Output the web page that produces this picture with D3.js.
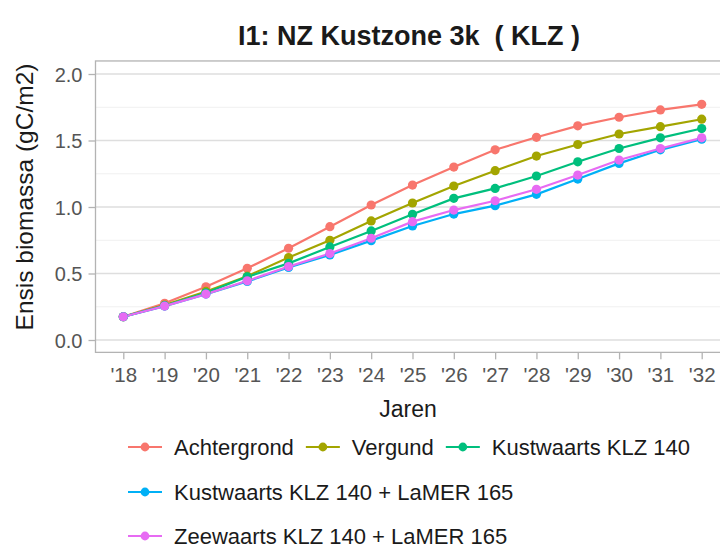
<!DOCTYPE html>
<html>
<head>
<meta charset="utf-8">
<script src="https://cdn.jsdelivr.net/npm/d3@7"></script>
<style>
  body { margin: 0; background: #fff; }
  svg { display: block; font-family: "Liberation Sans", Arial, sans-serif; }
</style>
</head>
<body>
<svg id="chart" width="720" height="549"></svg>
<script>
// jaren en tick labels
const years = [2018, 2019, 2020, 2021, 2022, 2023, 2024, 2025, 2026, 2027, 2028, 2029, 2030, 2031, 2032];
const yearLabels = ["'18", "'19", "'20", "'21", "'22", "'23", "'24", "'25", "'26", "'27", "'28", "'29", "'30", "'31", "'32"];
const yTicks = [0, 0.5, 1, 1.5, 2];
const yMinor = [0.25, 0.75, 1.25, 1.75];

// series (gC/m2)
const achtergrond = [0.175, 0.276, 0.40, 0.539, 0.69, 0.852, 1.015, 1.165, 1.30, 1.43, 1.524, 1.61, 1.675, 1.73, 1.772];
const vergund = [0.175, 0.262, 0.365, 0.48, 0.62, 0.75, 0.895, 1.03, 1.158, 1.273, 1.383, 1.47, 1.549, 1.604, 1.66];
const kustwaarts = [0.175, 0.258, 0.355, 0.475, 0.576, 0.70, 0.82, 0.945, 1.065, 1.14, 1.233, 1.34, 1.44, 1.52, 1.59];
const kustwaartsLamer = [0.175, 0.255, 0.345, 0.44, 0.545, 0.64, 0.747, 0.857, 0.947, 1.01, 1.095, 1.21, 1.328, 1.43, 1.51];
const zeewaartsLamer = [0.175, 0.255, 0.345, 0.445, 0.552, 0.65, 0.765, 0.89, 0.977, 1.047, 1.133, 1.24, 1.353, 1.44, 1.52];

const seriesNames = ["Achtergrond", "Vergund", "Kustwaarts KLZ 140", "Kustwaarts KLZ 140 + LaMER 165", "Zeewaarts KLZ 140 + LaMER 165"];
const seriesValues = [achtergrond, vergund, kustwaarts, kustwaartsLamer, zeewaartsLamer];
const colors = ["#F8766D", "#A3A500", "#00BF7D", "#00B0F6", "#E76BF3"];

const svg = d3.select("#chart");

const x = d3.scaleLinear().domain([2018, 2032]).range([123.3, 701.7]);
const y = d3.scaleLinear().domain([0, 2]).range([340, 74]);
const color = d3.scaleOrdinal().domain(seriesNames).range(colors);

// paneel (loopt rechts door buiten beeld)
const panel = { left: 95.5, right: 731, top: y(2.098), bottom: y(-0.093) };

const grid = svg.append("g").attr("class", "grid");
grid.selectAll(".minor")
    .data(yMinor)
    .enter()
    .append("line")
    .attr("x1", panel.left).attr("x2", panel.right)
    .attr("y1", d => y(d)).attr("y2", d => y(d))
    .style("stroke", "#f0f0f0").style("stroke-width", 1);
grid.selectAll(".major")
    .data(yTicks)
    .enter()
    .append("line")
    .attr("x1", panel.left).attr("x2", panel.right)
    .attr("y1", d => y(d)).attr("y2", d => y(d))
    .style("stroke", "#dedede").style("stroke-width", 1.3);

svg.append("rect")
    .attr("x", panel.left).attr("y", panel.top)
    .attr("width", panel.right - panel.left)
    .attr("height", panel.bottom - panel.top)
    .style("fill", "none").style("stroke", "#b3b3b3").style("stroke-width", 1.3);

// assen
const yAxis = d3.axisLeft(y).tickValues(yTicks).tickSize(7).tickPadding(6).tickFormat(d3.format(".1f"));
svg.append("g")
    .attr("transform", `translate(${panel.left},0)`)
    .call(yAxis)
    .call(g => g.select(".domain").remove())
    .call(g => g.selectAll("line").style("stroke", "#b3b3b3").style("stroke-width", 1.3))
    .call(g => g.selectAll("text").style("fill", "#555").style("font-size", "20px")
        .style("font-family", "'Liberation Sans', Arial, sans-serif").attr("dy", "0.36em"));

const xAxis = d3.axisBottom(x).tickValues(years).tickSize(7).tickPadding(8).tickFormat((d, i) => yearLabels[i]);
svg.append("g")
    .attr("transform", `translate(0,${panel.bottom})`)
    .call(xAxis)
    .call(g => g.select(".domain").remove())
    .call(g => g.selectAll("line").style("stroke", "#b3b3b3").style("stroke-width", 1.3))
    .call(g => g.selectAll("text").style("fill", "#555").style("font-size", "20.5px")
        .style("font-family", "'Liberation Sans', Arial, sans-serif"));

// lijnen en punten
const line = d3.line().x((d, i) => x(years[i])).y(d => y(d));
const data = seriesNames.map((name, i) => ({ name, values: seriesValues[i] }));

svg.append("g").selectAll("path")
    .data(data)
    .enter()
    .append("path")
    .attr("d", d => line(d.values))
    .style("fill", "none")
    .style("stroke", d => color(d.name))
    .style("stroke-width", 2.2);

svg.append("g").selectAll("g")
    .data(data)
    .enter()
    .append("g")
    .style("fill", d => color(d.name))
    .selectAll("circle")
    .data(d => d.values)
    .enter()
    .append("circle")
    .attr("cx", (d, i) => x(years[i]))
    .attr("cy", d => y(d))
    .attr("r", 4.6);

// titels
svg.append("text")
    .attr("x", 409).attr("y", 45)
    .style("text-anchor", "middle")
    .style("white-space", "pre")
    .style("font-size", "27px").style("font-weight", "bold").style("fill", "#1a1a1a")
    .text("I1: NZ Kustzone 3k  ( KLZ )");

svg.append("text")
    .attr("transform", `translate(33,${(y(0) + y(2)) / 2 - 10}) rotate(-90)`)
    .style("text-anchor", "middle")
    .style("font-size", "24.5px").style("fill", "#1a1a1a")
    .text("Ensis biomassa (gC/m2)");

svg.append("text")
    .attr("x", 408).attr("y", 417)
    .style("text-anchor", "middle")
    .style("font-size", "23px").style("fill", "#1a1a1a")
    .text("Jaren");

// legenda: rij 1 met drie items, daarna een item per rij
const legendRows = [[0, 1, 2], [3], [4]];
const rowY = [447, 492, 536];
const keyW = 34;

legendRows.forEach((row, r) => {
    let cx = 128;
    row.forEach(idx => {
        const name = seriesNames[idx];
        const item = svg.append("g").attr("transform", `translate(${cx},${rowY[r]})`);
        item.append("line")
            .attr("x1", 0).attr("x2", keyW)
            .style("stroke", color(name)).style("stroke-width", 2.2);
        item.append("circle").attr("cx", keyW / 2).attr("r", 4.4).style("fill", color(name));
        const label = item.append("text")
            .attr("x", keyW + 12).attr("dy", "0.36em")
            .style("font-size", "22px").style("fill", "#1a1a1a")
            .text(name);
        cx += keyW + 12 + label.node().getComputedTextLength() + 12;
    });
});
</script>
</body>
</html>
